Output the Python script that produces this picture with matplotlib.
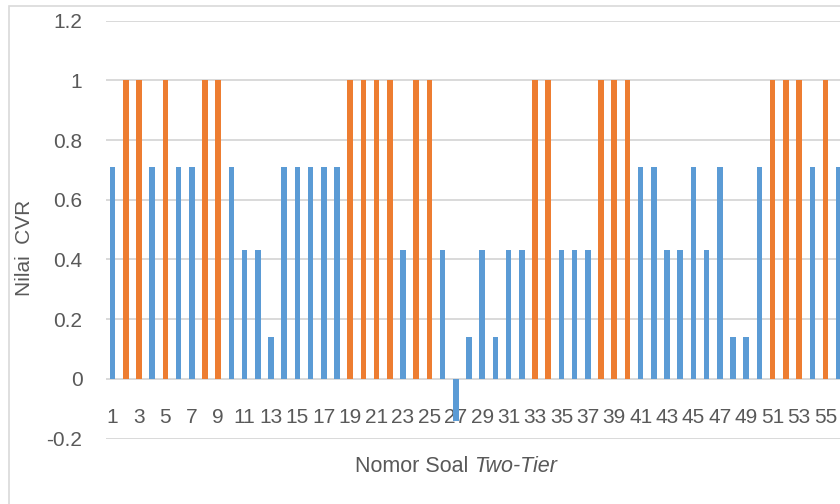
import matplotlib.pyplot as plt
import numpy as np
from matplotlib.patches import Rectangle

# Nilai CVR tiap soal two-tier (soal 1..56, gambar terpotong di kanan)
nomor_soal = list(range(1, 57))
nilai_cvr = [0.71, 1, 1, 0.71, 1, 0.71, 0.71, 1, 1, 0.71,
             0.43, 0.43, 0.14, 0.71, 0.71, 0.71, 0.71, 0.71, 1, 1,
             1, 1, 0.43, 1, 1, 0.43, -0.14, 0.14, 0.43, 0.14,
             0.43, 0.43, 1, 1, 0.43, 0.43, 0.43, 1, 1, 1,
             0.71, 0.71, 0.43, 0.43, 0.71, 0.43, 0.71, 0.14, 0.14, 0.71,
             1, 1, 1, 0.71, 1, 0.71]
y_ticks = [-0.2, 0, 0.2, 0.4, 0.6, 0.8, 1, 1.2]
y_labels = ['-0.2', '0', '0.2', '0.4', '0.6', '0.8', '1', '1.2']

biru = '#5B9BD5'
oranye = '#ED7D31'
abu = '#D9D9D9'
teks = '#595959'

plt.rcParams['font.family'] = ['Liberation Sans', 'DejaVu Sans']

fig = plt.figure(figsize=(8.4, 5.04), dpi=100)
# bingkai chart (terpotong di kanan dan bawah)
fig.patches.append(Rectangle((9/840, -0.1), 1.2, 1 - 6/504 + 0.1, transform=fig.transFigure,
                             fill=False, edgecolor=abu, lw=1.2))

ax = fig.add_axes([106/840, 1 - 438.5/504, 1 - 106/840, (438.5 - 20.7)/504])
warna = [oranye if v >= 1 else biru for v in nilai_cvr]
ax.bar(nomor_soal, nilai_cvr, width=0.42, color=warna, zorder=3)

ax.set_xlim(0.5, 56.1)
ax.set_ylim(-0.2, 1.2)
ax.set_yticks(y_ticks)
ax.set_yticklabels(y_labels)
ax.set_xticks(nomor_soal[::2])
ax.set_xticklabels([str(n) for n in nomor_soal[::2]])

for s in ax.spines.values():
    s.set_visible(False)
ax.spines['bottom'].set_position(('data', 0))
ax.grid(axis='y', color=abu, lw=1.4, zorder=0)
ax.tick_params(axis='y', length=0, pad=17, labelsize=15, labelcolor=teks)
ax.tick_params(axis='x', length=0, pad=21, labelsize=15, labelcolor=teks)

fig.text(25/840, 1 - 248/504, 'Nilai  CVR', rotation=90, ha='center', va='center',
         fontsize=15, color=teks)
t1 = fig.text(355/840, 1 - 472/504, 'Nomor Soal ', ha='left', va='baseline',
              fontsize=15.5, color=teks)
ax.annotate('Two-Tier', xy=(1, 0), xycoords=t1, ha='left', va='bottom',
            fontsize=15.5, color=teks, style='italic', annotation_clip=False)

fig.savefig('out.png', dpi=100)
